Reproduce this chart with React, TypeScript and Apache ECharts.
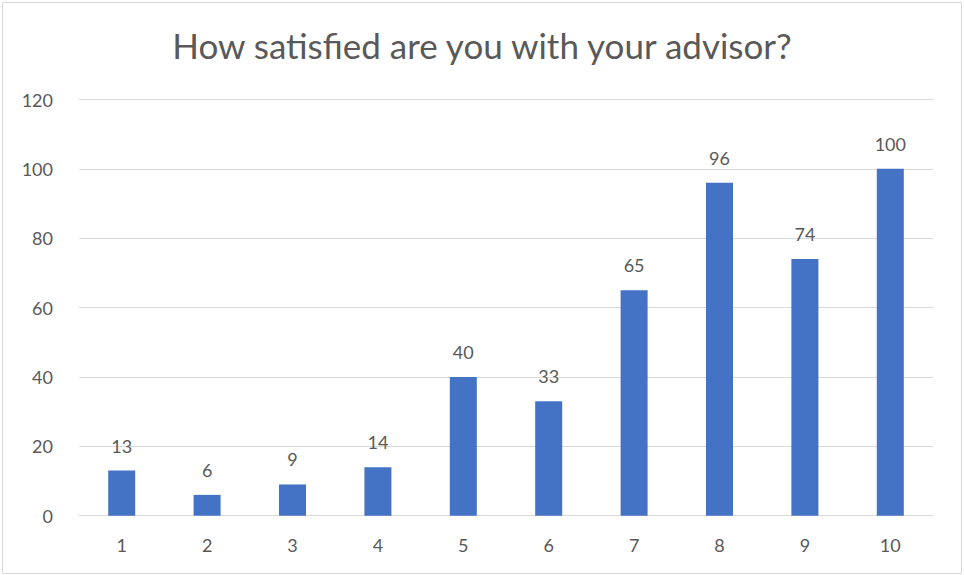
import React, { useEffect, useRef } from "react";
import * as echarts from "echarts";

const categories = ["1", "2", "3", "4", "5", "6", "7", "8", "9", "10"];
const values = [13, 6, 9, 14, 40, 33, 65, 96, 74, 100];
const titleText = "How satisfied are you with your advisor?";

export default function App() {
  const ref = useRef<HTMLDivElement>(null);
  useEffect(() => {
    if (!ref.current) return;
    const chart = echarts.init(ref.current, null, { renderer: "svg" });
    const gray = "#595959";
    chart.setOption({
      animation: false,
      backgroundColor: "#ffffff",
      title: {
        text: titleText,
        left: "center",
        top: 22,
        textStyle: { fontFamily: "Lato", fontSize: 35, fontWeight: "normal", color: gray },
      },
      graphic: [
        {
          type: "rect",
          shape: { x: 2.5, y: 2.5, width: 959, height: 571 },
          style: { fill: "none", stroke: "#d9d9d9", lineWidth: 1 },
          silent: true,
        },
      ],
      grid: { left: 79, right: 31, top: 99.5, bottom: 59.3 },
      xAxis: {
        type: "category",
        data: categories,
        axisLine: { lineStyle: { color: "#d9d9d9", width: 1 } },
        axisTick: { show: false },
        axisLabel: { color: gray, fontFamily: "Lato", fontSize: 18, margin: 20 },
      },
      yAxis: {
        type: "value",
        min: 0,
        max: 120,
        interval: 20,
        axisLine: { show: false },
        axisTick: { show: false },
        splitLine: { lineStyle: { color: "#d9d9d9", width: 1 } },
        axisLabel: { color: gray, fontFamily: "Lato", fontSize: 18, margin: 26 },
      },
      series: [
        {
          type: "bar",
          data: values,
          barWidth: 27,
          itemStyle: { color: "#4472c4" },
          label: {
            show: true,
            position: "top",
            distance: 16,
            color: gray,
            fontFamily: "Lato",
            fontSize: 18,
          },
        },
      ],
    });
    return () => chart.dispose();
  }, []);
  return (
    <div
      ref={ref}
      style={{ position: "absolute", left: 0, top: 0, width: 964, height: 575 }}
    />
  );
}
